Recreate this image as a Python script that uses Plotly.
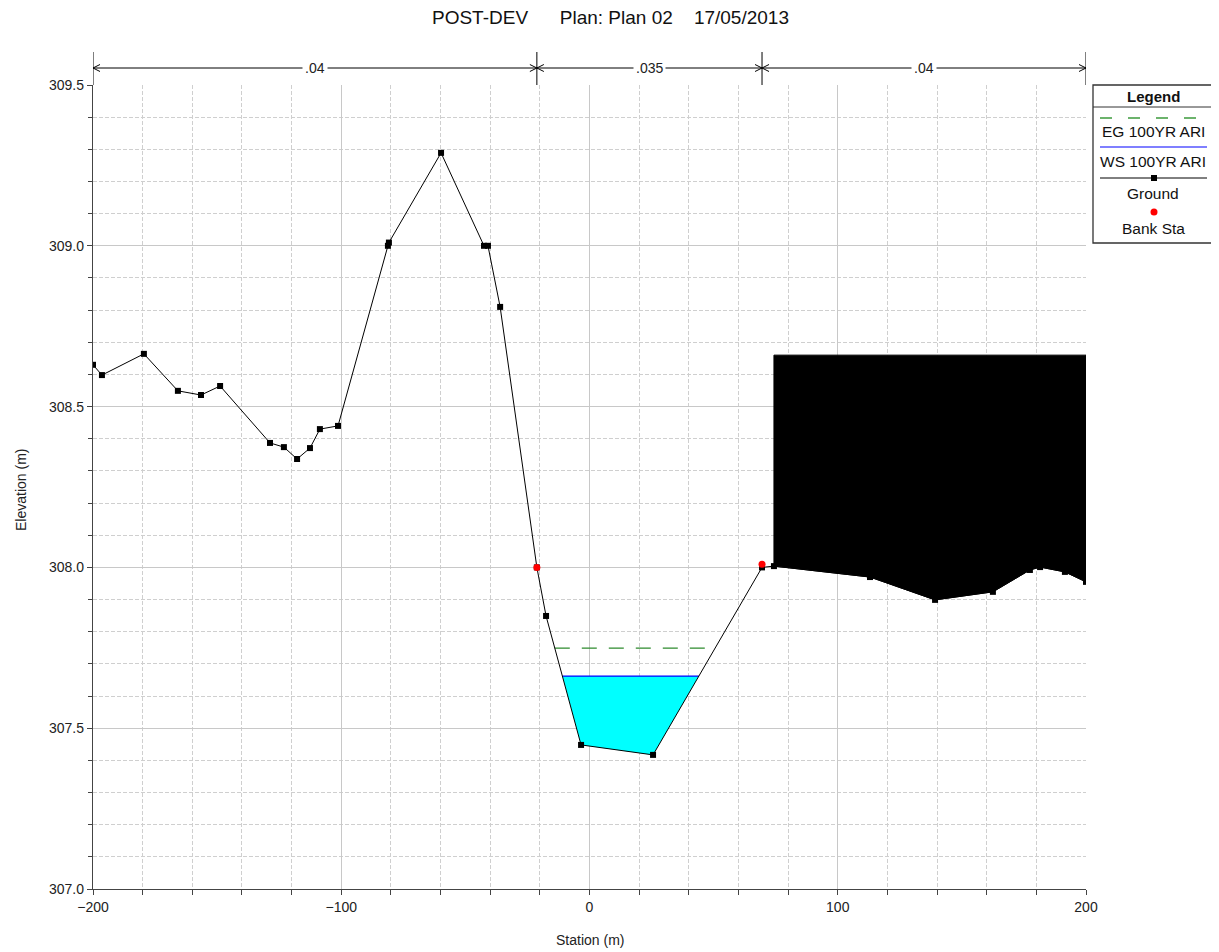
import numpy as np
import plotly.graph_objects as go

# ---------------- data ----------------
ground_x = [-200, -196.4, -179.5, -165.8, -156.5, -148.8, -128.7, -123.1, -117.8, -112.6,
            -108.6, -101.3, -81.2, -80.8, -59.8, -42.5, -40.9, -36.0, -21.2, -17.5,
            -3.4, 25.6, 69.5, 74.3, 113.0, 139.2, 162.5, 177.4, 181.5, 191.5, 200]
ground_y = [308.63, 308.598, 308.664, 308.549, 308.536, 308.564, 308.387, 308.374, 308.337, 308.371,
            308.430, 308.440, 309.0, 309.01, 309.289, 309.0, 309.0, 308.81, 308.0, 307.849,
            307.448, 307.417, 308.0, 308.004, 307.970, 307.899, 307.924, 307.992, 308.001, 307.986, 307.955]
bank_x = [-21.2, 69.5]
bank_y = [308.0, 308.01]
ws_elev = 307.662      # WS 100YR ARI
eg_elev = 307.749      # EG 100YR ARI
obs_start = 74.3       # blocked obstruction (right overbank)
obs_end = 200
obs_top = 308.66
n_stations = [-200, -21.2, 69.5, 200]
n_labels = [".04", ".035", ".04"]
x_range = [-200, 200]
y_range = [307.0, 309.5]
legend_items = ["EG 100YR ARI", "WS 100YR ARI", "Ground", "Bank Sta"]
title_text = "POST-DEV\u00a0\u00a0\u00a0\u00a0\u00a0\u00a0Plan: Plan 02\u00a0\u00a0\u00a0\u00a017/05/2013"

gx = np.array(ground_x, float)
gy = np.array(ground_y, float)


def channel_crossings(level):
    """Polygon of ground below 'level' between the bank stations, with crossing points."""
    i0 = int(np.argmin(abs(gx - bank_x[0])))
    i1 = int(np.argmin(abs(gx - bank_x[1])))
    px, py = [], []
    for i in range(i0, i1):
        x0, y0, x1, y1 = gx[i], gy[i], gx[i + 1], gy[i + 1]
        if y0 < level:
            px.append(x0); py.append(y0)
        if (y0 - level) * (y1 - level) < 0:
            t = (level - y0) / (y1 - y0)
            px.append(x0 + t * (x1 - x0)); py.append(level)
    return px, py


wx, wy = channel_crossings(ws_elev)
ex, ey = channel_crossings(eg_elev)
eg_xs = [min(x for x, y in zip(ex, ey) if y == eg_elev), max(x for x, y in zip(ex, ey) if y == eg_elev)]

# obstruction polygon
ox = [obs_start, obs_end, obs_end]
oy = [obs_top, obs_top, float(np.interp(obs_end, gx, gy))]
inner = [(x, y) for x, y in zip(gx, gy) if obs_start < x < obs_end]
for x, y in reversed(inner):
    ox.append(x); oy.append(y)
ox += [obs_start, obs_start]
oy += [float(np.interp(obs_start, gx, gy)), obs_top]

fig = go.Figure()
fig.add_trace(go.Scatter(x=wx + [wx[0]], y=wy + [wy[0]], fill="toself", fillcolor="#00FFFF",
                         mode="lines", line=dict(width=0), hoverinfo="skip", showlegend=False))
fig.add_trace(go.Scatter(x=[wx[0], wx[-1]], y=[ws_elev, ws_elev], mode="lines",
                         line=dict(color="#0000FF", width=1.3), showlegend=False))
fig.add_trace(go.Scatter(x=eg_xs, y=[eg_elev, eg_elev], mode="lines",
                         line=dict(color="#2E8B2E", width=1.3, dash="15px,12px"), showlegend=False))
fig.add_trace(go.Scatter(x=gx, y=gy, mode="lines+markers",
                         line=dict(color="#000000", width=1),
                         marker=dict(symbol="square", size=6, color="#000000"), showlegend=False))
fig.add_trace(go.Scatter(x=ox, y=oy, fill="toself", fillcolor="#000000", mode="lines",
                         line=dict(color="#000000", width=1), hoverinfo="skip", showlegend=False))
fig.add_trace(go.Scatter(x=bank_x, y=bank_y, mode="markers",
                         marker=dict(symbol="circle", size=7, color="#FF0000"), showlegend=False))

# page has an 8px body margin: compensate so plot area lands at screen px 93..1086 / 85..889
OFF = 8
SW, SH = 1219, 952
PL, PR, PT, PB = 93, 1086, 85, 889
pw, ph = PR - PL, PB - PT
W, H = SW - OFF, SH - OFF
L, T = PL - OFF, PT - OFF
R, B = W - L - pw, H - T - ph


def px2x(p):
    return (p - PL) / pw


def py2y(p):
    return (PB - p) / ph


shapes = []
annots = []
# Manning's n band
ny = py2y(68)
shapes.append(dict(type="line", xref="x", yref="paper", x0=n_stations[0], x1=n_stations[-1],
                   y0=ny, y1=ny, line=dict(color="black", width=1)))
ax_len = 7 * 400 / pw
ay_h = 3.5 / ph
for i, s in enumerate(n_stations):
    shapes.append(dict(type="line", xref="x", yref="paper", x0=s, x1=s, y0=1.0, y1=py2y(52),
                       line=dict(color="black", width=1)))
    if i > 0:
        shapes.append(dict(type="path", xref="x", yref="paper",
                           path=f"M {s-ax_len},{ny+ay_h} L {s},{ny} L {s-ax_len},{ny-ay_h}",
                           line=dict(color="black", width=1)))
    if i < len(n_stations) - 1:
        shapes.append(dict(type="path", xref="x", yref="paper",
                           path=f"M {s+ax_len},{ny+ay_h} L {s},{ny} L {s+ax_len},{ny-ay_h}",
                           line=dict(color="black", width=1)))
for i, lab in enumerate(n_labels):
    annots.append(dict(x=(n_stations[i] + n_stations[i + 1]) / 2, y=ny, xref="x", yref="paper",
                       xanchor="center", yanchor="middle",
                       text=lab, showarrow=False, bgcolor="white", borderpad=2,
                       font=dict(size=14, color="#222")))

# Legend box
lx0, lx1 = px2x(1093), px2x(1213)
shapes.append(dict(type="rect", xref="paper", yref="paper", x0=lx0, x1=lx1, y0=py2y(243), y1=py2y(85),
                   line=dict(color="#333", width=1.3), fillcolor="white"))
shapes.append(dict(type="line", xref="paper", yref="paper", x0=lx0, x1=lx1, y0=py2y(107), y1=py2y(107),
                   line=dict(color="#333", width=1)))
lcx = (lx0 + lx1) / 2
sx0, sx1 = px2x(1100), px2x(1207)
shapes.append(dict(type="line", xref="paper", yref="paper", x0=sx0, x1=sx1, y0=py2y(118), y1=py2y(118),
                   line=dict(color="#3C9A3C", width=1.3, dash="12px,16px")))
shapes.append(dict(type="line", xref="paper", yref="paper", x0=sx0, x1=sx1, y0=py2y(147), y1=py2y(147),
                   line=dict(color="#5555FF", width=1.3)))
shapes.append(dict(type="line", xref="paper", yref="paper", x0=sx0, x1=sx1, y0=py2y(178), y1=py2y(178),
                   line=dict(color="black", width=1)))
shapes.append(dict(type="rect", xref="paper", yref="paper", x0=px2x(1151), x1=px2x(1157),
                   y0=py2y(181), y1=py2y(175), line=dict(width=0), fillcolor="black"))
shapes.append(dict(type="circle", xref="paper", yref="paper", x0=px2x(1150.5), x1=px2x(1157.5),
                   y0=py2y(215.5), y1=py2y(208.5), line=dict(width=0), fillcolor="red"))
annots.append(dict(x=lcx, y=py2y(96), xref="paper", yref="paper", text="<b>Legend</b>",
                   xanchor="center", yanchor="middle",
                   showarrow=False, font=dict(size=15, color="#111")))
for txt, yy in zip(legend_items, [131, 161, 194, 228]):
    annots.append(dict(x=lcx, y=py2y(yy), xref="paper", yref="paper", text=txt,
                       xanchor="center", yanchor="middle",
                       showarrow=False, font=dict(size=15.5, color="#111")))

# Axis titles
annots.append(dict(x=0.5, y=py2y(940), xref="paper", yref="paper", text="Station (m)", showarrow=False,
                   xanchor="center", yanchor="middle", font=dict(size=14, color="#222")))
annots.append(dict(x=px2x(21), y=py2y(490), xref="paper", yref="paper", text="Elevation (m)",
                   xanchor="center", yanchor="middle",
                   showarrow=False, textangle=-90, font=dict(size=14, color="#222")))
# Title
annots.append(dict(x=px2x(610), y=py2y(17), xref="paper", yref="paper", text=title_text,
                   xanchor="center", yanchor="middle", showarrow=False, font=dict(size=19, color="#111")))

grid_major = "#C8C8C8"
grid_minor = "#CFCFCF"
fig.update_layout(
    width=W, height=H, margin=dict(l=L, r=R, t=T, b=B),
    paper_bgcolor="white", plot_bgcolor="white",
    font=dict(family="Liberation Sans, Arial, sans-serif", size=14, color="#222"),
    shapes=shapes, annotations=annots, showlegend=False,
    xaxis=dict(range=x_range, dtick=100, tick0=0, showgrid=True, gridcolor=grid_major, gridwidth=1,
               zeroline=False, showline=True, linecolor="#444", linewidth=1.3,
               ticks="outside", ticklen=5, tickcolor="#444", tickfont=dict(size=14),
               minor=dict(dtick=20, showgrid=True, gridcolor=grid_minor, griddash="4px,2px",
                          ticks="outside", ticklen=5, tickcolor="#444")),
    yaxis=dict(range=y_range, dtick=0.5, tick0=307, tickformat=".1f", showgrid=True, gridcolor=grid_major,
               zeroline=False, showline=True, linecolor="#444", linewidth=1.3,
               ticks="outside", ticklen=5, tickcolor="#444", tickfont=dict(size=14),
               minor=dict(dtick=0.1, showgrid=True, gridcolor=grid_minor, griddash="4px,2px",
                          ticks="outside", ticklen=4, tickcolor="#444")),
)

fig.write_html("out.html")
